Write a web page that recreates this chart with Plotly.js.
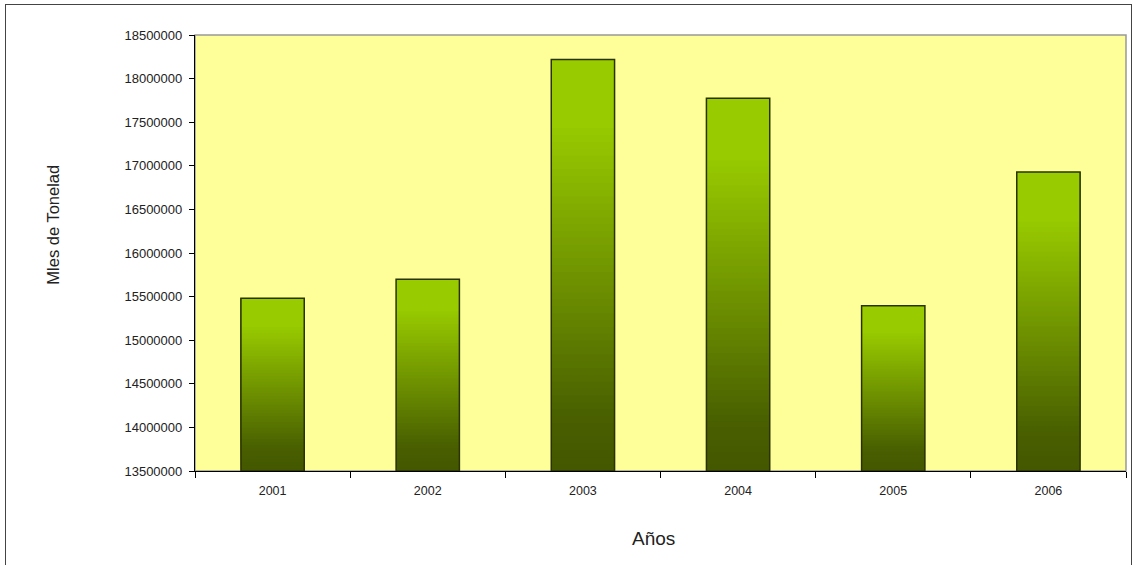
<!DOCTYPE html>
<html>
<head>
<meta charset="utf-8">
<script src="https://cdn.plot.ly/plotly-3.0.1.min.js"></script>
<style>
  html, body { margin: 0; padding: 0; overflow: hidden; background: #fff; }
  #chart { position: absolute; left: 0; top: 0; width: 1135px; height: 565px; }
  #frame { position: absolute; left: 5px; top: 4px; width: 1127px; height: 600px;
           border: 1.5px solid #444; pointer-events: none; box-sizing: border-box; }
</style>
</head>
<body>
<div id="chart"></div>
<div id="frame"></div>
<script>
// Data
const years = ['2001', '2002', '2003', '2004', '2005', '2006'];
const values = [15480000, 15700000, 18220000, 17775000, 15395000, 16930000];
const yTickVals = [13500000, 14000000, 14500000, 15000000, 15500000, 16000000,
                   16500000, 17000000, 17500000, 18000000, 18500000];
const yMin = 13500000, yMax = 18500000;

// Gradient colours (bottom -> top of each bar)
const gradStops = [
  [0.00, [68, 88, 0]],
  [0.12, [72, 94, 0]],
  [0.85, [153, 204, 0]],
  [1.00, [153, 204, 0]]
];
function gradColor(t) {
  for (let i = 1; i < gradStops.length; i++) {
    if (t <= gradStops[i][0]) {
      const a = gradStops[i - 1], b = gradStops[i];
      const f = (t - a[0]) / (b[0] - a[0]);
      const c = a[1].map((v, k) => Math.round(v + (b[1][k] - v) * f));
      return 'rgb(' + c.join(',') + ')';
    }
  }
  return 'rgb(153,204,0)';
}

// Each gradient layer runs from its own base up to the bar top, drawn bottom to top,
// so later layers cover the upper part without leaving seams.
const N = 60;
const traces = [];
for (let k = 0; k < N; k++) {
  const t = (k + 0.5) / N;
  traces.push({
    type: 'bar',
    x: years,
    base: values.map(v => yMin + (v - yMin) * k / N),
    y: values.map(v => (v - yMin) * (N - k) / N),
    width: 0.408,
    marker: { color: gradColor(t), line: { width: 0 } },
    hoverinfo: 'skip',
    showlegend: false
  });
}
// Outline bars
traces.push({
  type: 'bar',
  x: years,
  base: values.map(() => yMin),
  y: values.map(v => v - yMin),
  width: 0.408,
  marker: { color: 'rgba(0,0,0,0)', line: { color: '#2a3300', width: 1.5 } },
  hovertemplate: '%{x}: %{customdata}<extra></extra>',
  customdata: values,
  showlegend: false
});

const layout = {
  width: 1135, height: 565,
  margin: { l: 195, r: 9, t: 35, b: 94 },
  paper_bgcolor: 'rgba(0,0,0,0)',
  plot_bgcolor: '#ffff99',
  barmode: 'overlay',
  font: { family: 'Liberation Sans, Arial, sans-serif', color: '#222', size: 13 },
  xaxis: {
    type: 'category',
    showline: true, linecolor: '#000', linewidth: 1.2,
    ticks: 'outside', tickson: 'boundaries', ticklen: 6, tickcolor: '#000', tickwidth: 1.2,
    ticklabelstandoff: 8,
    tickfont: { size: 12.5 },
    showgrid: false, zeroline: false
  },
  yaxis: {
    range: [yMin, yMax],
    tickvals: yTickVals,
    ticktext: yTickVals.map(v => String(v)),
    showline: true, linecolor: '#000', linewidth: 1.2,
    ticks: 'outside', ticklen: 5, tickcolor: '#000', tickwidth: 1.2,
    ticklabelstandoff: 4,
    tickfont: { size: 13 },
    showgrid: false, zeroline: false
  },
  shapes: [{
    type: 'rect', xref: 'paper', yref: 'paper', x0: 0, x1: 1, y0: 0, y1: 1,
    line: { color: '#999', width: 1.5 }, layer: 'below'
  }],
  annotations: [
    { text: 'Años', xref: 'paper', yref: 'paper', x: 0.4925, y: -0.1537,
      xanchor: 'center', yanchor: 'middle', showarrow: false,
      font: { size: 19, color: '#222' } },
    { text: 'Mles de Tonelad', xref: 'paper', yref: 'paper', x: -0.1525, y: 0.565,
      xanchor: 'center', yanchor: 'middle', showarrow: false, textangle: -90,
      font: { size: 16.5, color: '#222' } }
  ]
};

Plotly.newPlot('chart', traces, layout, { displayModeBar: false, staticPlot: false });
</script>
</body>
</html>
